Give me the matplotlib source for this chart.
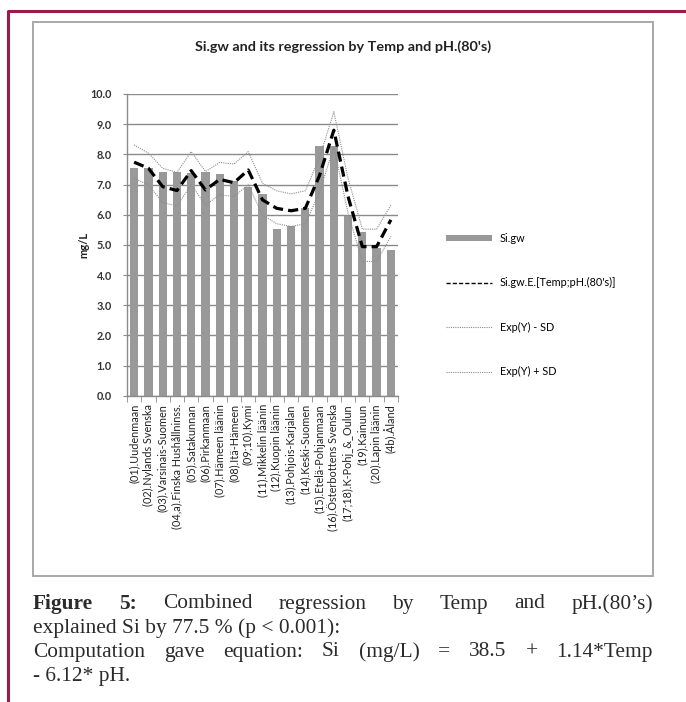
import matplotlib
matplotlib.use('Agg')
import numpy as np
import matplotlib.pyplot as plt
from matplotlib.patches import Rectangle, Patch
from matplotlib.lines import Line2D

# ---- data ----
regions = ['(01).Uudenmaan', '(02).Nylands Svenska', '(03).Varsinais-Suomen',
           '(04,a).Finska Hushållninss.', '(05).Satakunnan', '(06).Pirkanmaan',
           '(07).Hämeen läänin', '(08).Itä-Hämeen', '(09;10).Kymi',
           '(11).Mikkelin läänin', '(12).Kuopin läänin', '(13).Pohjois-Karjalan',
           '(14).Keski-Suomen', '(15).Etelä-Pohjanmaan', '(16).Österbottens Svenska',
           '(17;18).K-Pohj_&_Oulun', '(19).Kainuun', '(20).Lapin läänin', '(4b).Åland']
si_gw = [7.56, 7.56, 7.40, 7.40, 7.38, 7.40, 7.36, 7.12, 6.91, 6.67,
         5.53, 5.62, 6.21, 8.26, 8.26, 5.94, 5.43, 4.88, 4.83]
si_est = [7.74, 7.54, 6.93, 6.80, 7.46, 6.82, 7.17, 7.06, 7.48, 6.49,
          6.21, 6.13, 6.21, 7.30, 8.80, 6.60, 4.94, 4.94, 5.83]
minus_sd = [7.20, 6.99, 6.40, 6.29, 6.99, 6.32, 6.66, 6.60, 6.99, 5.99,
            5.70, 5.61, 5.70, 6.75, 8.25, 6.05, 4.45, 4.45, 5.28]
plus_sd = [8.31, 8.04, 7.54, 7.40, 8.09, 7.43, 7.73, 7.68, 8.09, 7.04,
           6.79, 6.69, 6.79, 7.90, 9.41, 7.20, 5.52, 5.52, 6.32]
series_names = ['Si.gw', "Si.gw.E.[Temp;pH.(80's)]", 'Exp(Y) - SD', 'Exp(Y) + SD']
yticks = np.arange(0, 10.5, 1.0)

W, H = 686, 702
fig = plt.figure(figsize=(W / 100, H / 100), dpi=100)
fig.patch.set_facecolor('white')


def fx(px):
    return px / W


def fy(py):
    return 1 - py / H


# page border (crimson) and chart frame
fig.add_artist(Line2D([fx(8), fx(8), fx(686)], [fy(702), fy(10.5), fy(10.5)],
                      color='#9b1c4b', lw=2.2, transform=fig.transFigure))
fig.add_artist(Rectangle((fx(33), fy(576)), fx(653) - fx(33), fy(22) - fy(576),
                         fill=False, edgecolor='#a8a8a8', lw=1.4,
                         transform=fig.transFigure))

ax = fig.add_axes([fx(127), fy(395.7), fx(398) - fx(127), fy(94) - fy(395.7)])
x = np.arange(len(regions))

bar_col = '#999999'
dot_col = '#8c8c8c'
ax.bar(x, si_gw, width=0.58, color=bar_col, zorder=2)
ax.plot(x, si_est, color='black', lw=2.3, ls=(0, (3.2, 1.6)), zorder=4)
ax.plot(x, minus_sd, color=dot_col, lw=0.8, ls=(0, (1, 1)), zorder=3)
ax.plot(x, plus_sd, color=dot_col, lw=0.8, ls=(0, (1, 1)), zorder=3)

ax.set_xlim(-0.5, len(regions) - 0.5)
ax.set_ylim(0, 10)
ax.set_yticks(yticks)
ax.set_yticklabels([f'{v:.1f}' for v in yticks], fontsize=7.8, fontweight='bold',
                   color='#333333', family='Lato')
ax.yaxis.grid(True, color='#8a8a8a', lw=1.0, zorder=0)
ax.set_axisbelow(True)
ax.tick_params(axis='y', length=3, color='#8a8a8a', pad=8)

ax.set_xticks(x)
ax.set_xticklabels(regions, rotation=90, fontsize=7.8, family='Lato',
                   color='#222222', va='top', ha='center')
ax.tick_params(axis='x', length=0, pad=6)
ax.set_xticks(np.arange(-0.5, len(regions), 1.0), minor=True)
ax.tick_params(axis='x', which='minor', length=4, color='#8a8a8a')

for s in ['top', 'right']:
    ax.spines[s].set_visible(False)
for s in ['left', 'bottom']:
    ax.spines[s].set_color('#8a8a8a')
    ax.spines[s].set_linewidth(1.0)

ax.set_ylabel('mg/L', fontsize=8, fontweight='bold', family='Lato',
              color='#222222', labelpad=1)

fig.text(fx(343), fy(47), "Si.gw and its regression by Temp and pH.(80's)",
         ha='center', va='center', fontsize=10.4, fontweight='bold',
         family='Lato', color='#222222')

handles = [Patch(facecolor=bar_col, edgecolor='none'),
           Line2D([], [], color='black', lw=1.0, ls=(0, (3, 1.5))),
           Line2D([], [], color=dot_col, lw=0.8, ls=(0, (1, 1))),
           Line2D([], [], color=dot_col, lw=0.8, ls=(0, (1, 1)))]
fig.legend(handles=handles, labels=series_names, loc='upper left',
           bbox_to_anchor=(fx(436), fy(223)), frameon=False,
           handlelength=4.3, handleheight=0.45, labelspacing=3.08,
           handletextpad=0.7, prop={'family': 'Lato', 'size': 7.8})

# caption
cap_font = dict(family='Liberation Serif', fontsize=15.4, color='#2b2b2b')


def justified(words, y, x0, x1, bold_first=0):
    r = fig.canvas.get_renderer()
    texts = []
    for i, w in enumerate(words):
        t = fig.text(0, fy(y), w, va='center', ha='left',
                     fontweight='bold' if i < bold_first else 'normal', **cap_font)
        texts.append(t)
    widths = [t.get_window_extent(r).width for t in texts]
    gap = ((x1 - x0) - sum(widths)) / (len(words) - 1)
    pos = x0
    for t, w in zip(texts, widths):
        t.set_x(fx(pos))
        pos += w + gap


justified(['Figure', '5:', 'Combined', 'regression', 'by', 'Temp', 'and', "pH.(80’s)"],
          604, 33, 653, bold_first=2)
fig.text(fx(33), fy(628), 'explained Si by 77.5 % (p < 0.001):', va='center',
         ha='left', **cap_font)
justified(['Computation', 'gave', 'equation:', 'Si', '(mg/L)', '=', '38.5', '+',
           '1.14*Temp'], 652, 33, 653)
fig.text(fx(33), fy(676), '- 6.12* pH.', va='center', ha='left', **cap_font)

fig.savefig('out.png', dpi=100, facecolor='white')
